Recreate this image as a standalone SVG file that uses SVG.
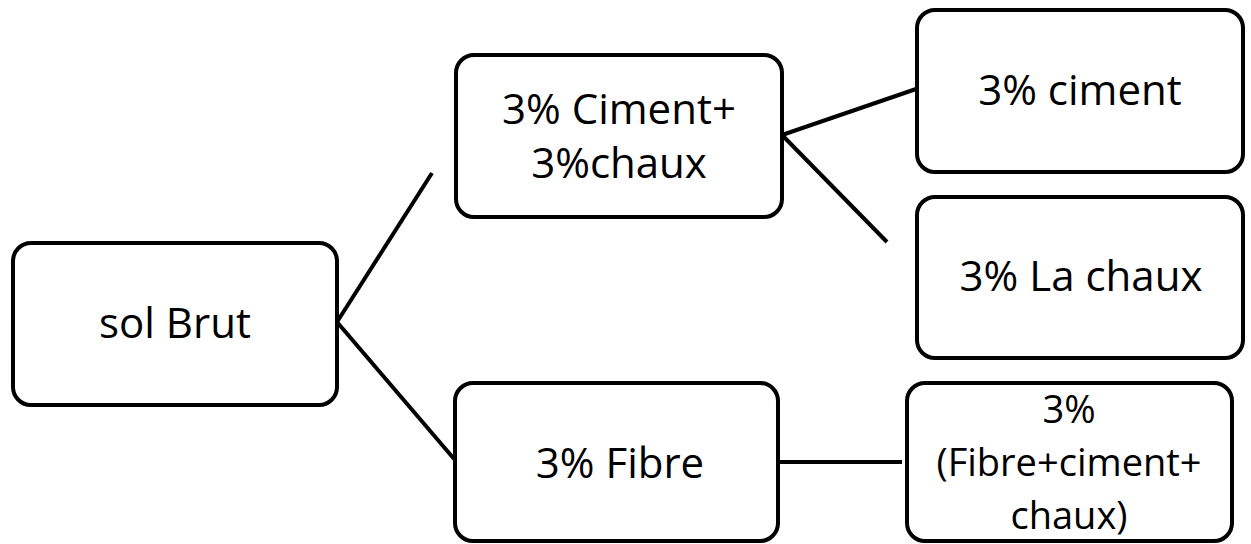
<svg xmlns="http://www.w3.org/2000/svg" width="1251" height="544" viewBox="0 0 1251 544">
<style>
.box{fill:#fff;stroke:#000;stroke-width:4}
.lbl{font-family:"Open Sans","Liberation Sans",sans-serif;font-size:42px;fill:#000;text-anchor:middle}
.sm{font-size:38px}
.con line{stroke:#000;stroke-width:4}
</style>
<rect width="1251" height="544" fill="#fff"/>
<g class="con" id="connectors">
<line x1="337" y1="322" x2="432" y2="173"/>
<line x1="337" y1="322" x2="455" y2="460"/>
<line x1="782" y1="135" x2="919" y2="88"/>
<line x1="782" y1="135" x2="887" y2="242"/>
<line x1="778" y1="462" x2="902" y2="462"/>
</g>
<g id="n1"><rect class="box" x="13" y="243" width="324" height="162" rx="18"/><text class="lbl" x="175" y="338">sol Brut</text></g>
<g id="n2"><rect class="box" x="456" y="55" width="326" height="162" rx="18"/><text class="lbl" x="619" y="124">3% Ciment+</text><text class="lbl" x="619" y="178">3%chaux</text></g>
<g id="n3"><rect class="box" x="917" y="10" width="326" height="162" rx="18"/><text class="lbl" x="1080" y="105">3% ciment</text></g>
<g id="n4"><rect class="box" x="917" y="197" width="326" height="161" rx="18"/><text class="lbl" x="1081" y="291">3% La chaux</text></g>
<g id="n5"><rect class="box" x="455" y="383" width="323" height="158" rx="18"/><text class="lbl" x="620" y="478">3% Fibre</text></g>
<g id="n6"><rect class="box" x="907" y="383" width="325" height="158" rx="18"/><text class="lbl sm" x="1069" y="423">3%</text><text class="lbl sm" x="1069" y="476">(Fibre+ciment+</text><text class="lbl sm" x="1069" y="529">chaux)</text></g>
</svg>
